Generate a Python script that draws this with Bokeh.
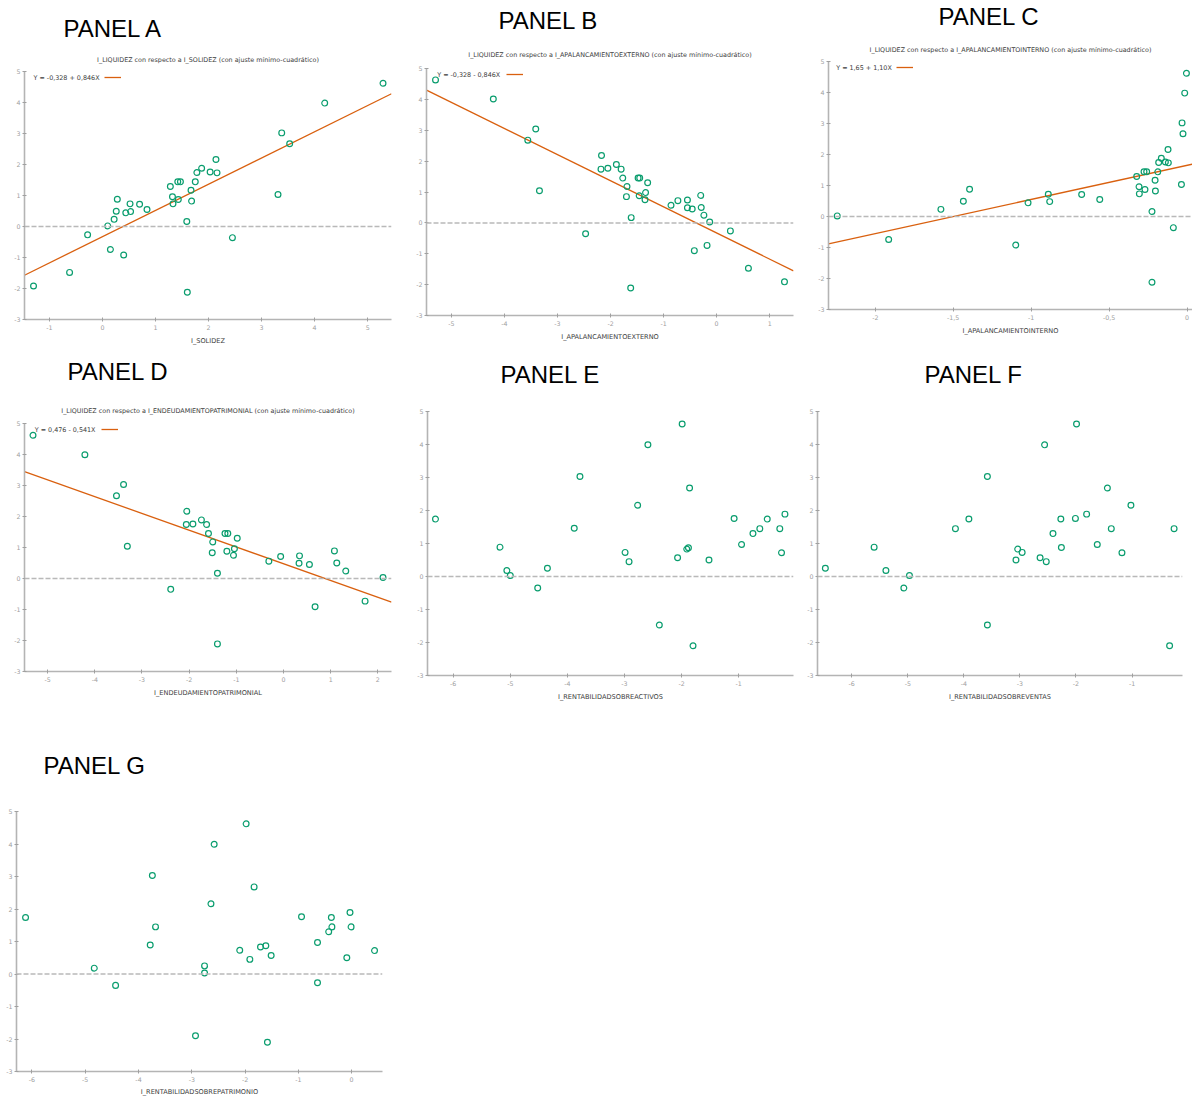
from bokeh.plotting import figure
from bokeh.models import Range1d, FixedTicker, Span, Title, Legend, LegendItem, Label
from bokeh.layouts import column, row
from bokeh.embed import file_html
from bokeh.resources import INLINE

# ---------------- data ----------------
Y_TICKS = [-3, -2, -1, 0, 1, 2, 3, 4, 5]
Y_TICK_LABELS = ["-3", "-2", "-1", "0", "1", "2", "3", "4", "5"]

# Panel A: I_LIQUIDEZ vs I_SOLIDEZ
solidez_x = [-1.30, -0.62, -0.28, 0.10, 0.15, 0.22, 0.26, 0.28, 0.40, 0.44, 0.52, 0.53,
             0.70, 0.84, 1.28, 1.32, 1.33, 1.42, 1.47, 1.43, 1.59, 1.60, 1.67, 1.68,
             1.75, 1.78, 1.87, 2.03, 2.14, 2.16, 2.45, 3.31, 3.38, 3.53, 4.19, 5.29]
solidez_y = [-1.92, -1.48, -0.27, 0.02, -0.74, 0.23, 0.49, 0.88, -0.92, 0.44, 0.73, 0.48,
             0.72, 0.55, 1.29, 0.96, 0.73, 1.44, 1.44, 0.87, 0.16, -2.12, 1.17, 0.82,
             1.44, 1.74, 1.88, 1.76, 2.16, 1.73, -0.36, 1.03, 3.02, 2.67, 3.98, 4.62]
solidez_fit = [-0.328, 0.846]
solidez_eq = "Y = -0,328 + 0,846X"
solidez_ticks = [-1, 0, 1, 2, 3, 4, 5]
solidez_tick_labels = ["-1", "0", "1", "2", "3", "4", "5"]

# Panel B: I_LIQUIDEZ vs I_APALANCAMIENTOEXTERNO
apext_x = [-5.30, -4.21, -3.41, -3.56, -3.34, -2.47, -2.17, -2.18, -2.05, -1.89, -1.80, -1.77,
           -1.69, -1.70, -1.61, -1.62, -1.48, -1.45, -1.46, -1.34, -1.35, -1.30, -0.86, -0.73,
           -0.55, -0.55, -0.46, -0.42, -0.30, -0.29, -0.24, -0.18, -0.13, 0.26, 0.60, 1.28]
apext_y = [4.63, 4.01, 3.04, 2.68, 1.04, -0.35, 2.18, 1.74, 1.77, 1.89, 1.74, 1.45,
           1.18, 0.85, 0.17, -2.11, 1.45, 1.45, 0.88, 0.98, 0.75, 1.30, 0.57, 0.72,
           0.74, 0.49, 0.45, -0.90, 0.89, 0.50, 0.25, -0.73, 0.03, -0.26, -1.47, -1.91]
apext_fit = [-0.328, -0.846]
apext_eq = "Y = -0,328 - 0,846X"
apext_ticks = [-5, -4, -3, -2, -1, 0, 1]
apext_tick_labels = ["-5", "-4", "-3", "-2", "-1", "0", "1"]

# Panel C: I_LIQUIDEZ vs I_APALANCAMIENTOINTERNO
apint_x = [-2.244, -1.914, -1.579, -1.435, -1.395, -1.099, -1.020, -0.890, -0.881, -0.676, -0.560,
           -0.323, -0.308, -0.306, -0.276, -0.259, -0.270, -0.225, -0.225, -0.205, -0.203, -0.188,
           -0.182, -0.165, -0.139, -0.122, -0.120, -0.088, -0.036, -0.032, -0.026, -0.015, -0.004]
apint_y = [0.02, -0.74, 0.23, 0.49, 0.88, -0.92, 0.44, 0.72, 0.48, 0.71, 0.55,
           1.29, 0.96, 0.73, 1.44, 1.44, 0.87, 0.16, -2.12, 1.17, 0.82, 1.44,
           1.74, 1.88, 1.76, 2.16, 1.73, -0.36, 1.03, 3.02, 2.67, 3.98, 4.62]
apint_fit = [1.65, 1.10]
apint_eq = "Y = 1,65 + 1,10X"
apint_ticks = [-2, -1.5, -1, -0.5, 0]
apint_tick_labels = ["-2", "-1,5", "-1", "-0,5", "0"]

# Panel D: I_LIQUIDEZ vs I_ENDEUDAMIENTOPATRIMONIAL
endeu_x = [-5.31, -4.21, -3.39, -3.54, -3.31, -2.39, -2.05, -2.06, -1.92, -1.74, -1.63,
           -1.59, -1.50, -1.51, -1.40, -1.40, -1.24, -1.18, -1.20, -1.04, -1.06, -0.98,
           -0.31, -0.06, 0.33, 0.34, 0.55, 0.67, 1.08, 1.13, 1.32, 1.73, 2.11]
endeu_y = [4.62, 3.99, 3.03, 2.67, 1.04, -0.35, 2.17, 1.74, 1.76, 1.89, 1.74,
           1.45, 1.18, 0.83, 0.17, -2.11, 1.45, 1.45, 0.88, 0.96, 0.75, 1.30,
           0.56, 0.71, 0.49, 0.73, 0.45, -0.91, 0.89, 0.50, 0.24, -0.73, 0.03]
endeu_fit = [0.476, -0.541]
endeu_eq = "Y = 0,476 - 0,541X"
endeu_ticks = [-5, -4, -3, -2, -1, 0, 1, 2]
endeu_tick_labels = ["-5", "-4", "-3", "-2", "-1", "0", "1", "2"]

# Panel E: I_LIQUIDEZ vs I_RENTABILIDADSOBREACTIVOS
roa_x = [-6.31, -5.18, -5.06, -5.00, -4.52, -4.35, -3.88, -3.78, -2.99, -2.92, -2.77, -2.59,
         -2.39, -2.07, -1.99, -1.91, -1.88, -1.86, -1.80, -1.52, -1.08, -0.95, -0.75, -0.63,
         -0.50, -0.28, -0.25, -0.19]
roa_y = [1.74, 0.89, 0.18, 0.03, -0.35, 0.25, 1.46, 3.03, 0.73, 0.45, 2.16, 3.99,
         -1.47, 0.57, 4.62, 0.83, 0.87, 2.68, -2.10, 0.50, 1.76, 0.97, 1.30, 1.45,
         1.74, 1.45, 0.72, 1.89]
roa_ticks = [-6, -5, -4, -3, -2, -1]
roa_tick_labels = ["-6", "-5", "-4", "-3", "-2", "-1"]

# Panel F: I_LIQUIDEZ vs I_RENTABILIDADSOBREVENTAS
ros_x = [-6.47, -5.60, -5.39, -5.07, -4.97, -4.15, -3.91, -3.58, -3.58, -3.07, -3.04, -2.96,
         -2.64, -2.56, -2.53, -2.41, -2.27, -2.26, -2.01, -1.99, -1.81, -1.62, -1.44, -1.37,
         -1.18, -1.02, -0.33, -0.25]
ros_y = [0.25, 0.89, 0.18, -0.35, 0.03, 1.45, 1.74, 3.03, -1.47, 0.50, 0.83, 0.73,
         0.57, 3.99, 0.45, 1.30, 1.74, 0.88, 1.76, 4.62, 1.89, 0.97, 2.68, 1.45,
         0.72, 2.16, -2.10, 1.45]
ros_ticks = [-6, -5, -4, -3, -2, -1]
ros_tick_labels = ["-6", "-5", "-4", "-3", "-2", "-1"]

# Panel G: I_LIQUIDEZ vs I_RENTABILIDADSOBREPATRIMONIO
roe_x = [-6.12, -4.83, -4.43, -3.78, -3.74, -3.68, -2.93, -2.76, -2.76, -2.64, -2.58, -2.10,
         -1.98, -1.91, -1.83, -1.71, -1.61, -1.58, -1.51, -0.94, -0.64, -0.64, -0.43, -0.38,
         -0.37, -0.09, -0.03, -0.01, 0.43]
roe_y = [1.74, 0.18, -0.35, 0.89, 3.03, 1.45, -1.90, 0.25, 0.03, 2.16, 3.99, 0.73,
         4.62, 0.45, 2.68, 0.83, 0.87, -2.10, 0.57, 1.76, 0.97, -0.27, 1.30, 1.74,
         1.45, 0.50, 1.89, 1.45, 0.72]
roe_ticks = [-6, -5, -4, -3, -2, -1, 0]
roe_tick_labels = ["-6", "-5", "-4", "-3", "-2", "-1", "0"]

SUB = "I_LIQUIDEZ con respecto a {} (con ajuste mínimo-cuadrático)"

# ---------------- styling ----------------
GREEN = "#0a9d6e"
ORANGE = "#d9600f"
AXIS_COLOR = "#b4b4b4"
TICK_TEXT = "#a0a0a0"
TEXT_DARK = "#3c3c3c"
SMALL_FONT = "DejaVu Sans"


def build(name, xs, ys, xlabel, xr, ticks, tick_labels, geom, fit=None, eq=None, sub=None):
    w, h, bl, br, bt, bb = geom["box"]
    p = figure(width=w, height=h, x_range=Range1d(*xr), y_range=Range1d(-3, 5),
               output_backend="svg", toolbar_location=None, title=None,
               min_border_left=bl, min_border_right=br, min_border_top=bt, min_border_bottom=bb)
    p.frame_align = False
    p.outline_line_color = None
    p.grid.visible = False
    p.background_fill_color = "white"
    p.border_fill_color = "white"

    xa, ya = p.xaxis[0], p.yaxis[0]
    xa.ticker = FixedTicker(ticks=ticks)
    xa.major_label_overrides = {t: l for t, l in zip(ticks, tick_labels)}
    ya.ticker = FixedTicker(ticks=Y_TICKS)
    ya.major_label_overrides = {t: l for t, l in zip(Y_TICKS, Y_TICK_LABELS)}
    for ax in (xa, ya):
        ax.axis_line_color = AXIS_COLOR
        ax.axis_line_width = 1.6
        ax.major_tick_line_color = "#a0a0a0"
        ax.major_tick_line_width = 1
        ax.major_tick_in = 2
        ax.major_tick_out = 2
        ax.minor_tick_line_color = None
        ax.major_label_text_font = SMALL_FONT
        ax.major_label_text_font_size = "6.3px"
        ax.major_label_text_color = TICK_TEXT
        ax.major_label_standoff = 3
    ya.major_label_standoff = 2
    xa.axis_label = xlabel
    xa.axis_label_text_font = SMALL_FONT
    xa.axis_label_text_font_size = "6.6px"
    xa.axis_label_text_font_style = "normal"
    xa.axis_label_text_color = TEXT_DARK
    xa.axis_label_standoff = geom.get("als", 4)

    p.add_layout(Span(location=0, dimension="width", line_color="#b9b9b9",
                      line_width=1.5, line_dash="5 2"))

    fh = h - bt - bb
    if fit is not None:
        a, b = fit
        x0, x1 = xr
        line_r = p.line(x=[x0, x1], y=[a + b * x0, a + b * x1], line_color=ORANGE, line_width=1.3)
        leg = Legend(items=[LegendItem(label=" ", renderers=[line_r])],
                     location=(geom["leg_x"], fh - geom["leg_dy"] - 3),
                     background_fill_alpha=0, border_line_color=None,
                     padding=0, margin=0, glyph_width=17, glyph_height=6, label_height=6,
                     label_width=1, label_standoff=0, label_text_font_size="6px")
        p.add_layout(leg)
        p.add_layout(Label(x=geom["txt_x"], y=fh - geom["leg_dy"], x_units="screen", y_units="screen",
                           text=eq, text_align="left", text_baseline="middle",
                           text_font=SMALL_FONT, text_font_size="6.4px", text_color=TEXT_DARK))

    p.scatter(xs, ys, marker="circle", size=5.8, fill_color=None,
              line_color=GREEN, line_width=1.2)

    # title stack: subtitle (closest to frame), spacer, panel name
    if sub is not None:
        p.add_layout(Title(text=sub, align="center", text_font=SMALL_FONT,
                           text_font_size="6.4px", text_font_style="normal",
                           text_color=TEXT_DARK, standoff=geom["sub_so"]), "above")
    if geom["gap"] > 0:
        p.add_layout(Title(text=" ", text_font_size="1px", standoff=geom["gap"] - 3), "above")
    p.add_layout(Title(text=name, align="left", offset=geom["off"],
                       text_font="Liberation Sans", text_font_size="24px",
                       text_font_style="normal", text_color="black", standoff=0), "above")
    return p


pA = build("PANEL A", solidez_x, solidez_y, "I_SOLIDEZ", (-1.47, 5.45),
           solidez_ticks, solidez_tick_labels,
           dict(box=(400, 350, 24, 9, 71, 31), sub_so=14.8, gap=5, off=39,
                leg_x=80, txt_x=9, leg_dy=6.3),
           fit=solidez_fit, eq=solidez_eq, sub=SUB.format("I_SOLIDEZ"))
pB = build("PANEL B", apext_x, apext_y, "I_APALANCAMIENTOEXTERNO", (-5.47, 1.45),
           apext_ticks, apext_tick_labels,
           dict(box=(400, 350, 26, 7, 68, 35), sub_so=18.8, gap=6, off=72,
                leg_x=80, txt_x=10.7, leg_dy=6),
           fit=apext_fit, eq=apext_eq, sub=SUB.format("I_APALANCAMIENTOEXTERNO"))
pC = build("PANEL C", apint_x, apint_y, "I_APALANCAMIENTOINTERNO", (-2.30, 0.035),
           apint_ticks, apint_tick_labels,
           dict(box=(392, 350, 28, 0, 61, 41), sub_so=14.8, gap=7, off=110,
                leg_x=68, txt_x=7.7, leg_dy=6.3),
           fit=apint_fit, eq=apint_eq, sub=SUB.format("I_APALANCAMIENTOINTERNO"))
pD = build("PANEL D", endeu_x, endeu_y, "I_ENDEUDAMIENTOPATRIMONIAL", (-5.49, 2.29),
           endeu_ticks, endeu_tick_labels,
           dict(box=(400, 395, 24, 9, 73, 74), sub_so=18, gap=11, off=43,
                leg_x=77, txt_x=10.3, leg_dy=6),
           fit=endeu_fit, eq=endeu_eq, sub=SUB.format("I_ENDEUDAMIENTOPATRIMONIAL"))
pE = build("PANEL E", roa_x, roa_y, "I_RENTABILIDADSOBREACTIVOS", (-6.45, -0.04),
           roa_ticks, roa_tick_labels,
           dict(box=(400, 395, 27, 7, 61, 70), gap=24, off=73))
pF = build("PANEL F", ros_x, ros_y, "I_RENTABILIDADSOBREVENTAS", (-6.61, -0.10),
           ros_ticks, ros_tick_labels,
           dict(box=(392, 395, 17, 10, 61, 70), gap=24, off=107))
pG = build("PANEL G", roe_x, roe_y, "I_RENTABILIDADSOBREPATRIMONIO", (-6.29, 0.58),
           roe_ticks, roe_tick_labels,
           dict(box=(400, 353, 16, 18, 66, 24), gap=33, off=27, als=3))

layout = column(row(pA, pB, pC), row(pD, pE, pF), row(pG))
open("out.html", "w").write(file_html(layout, INLINE))
